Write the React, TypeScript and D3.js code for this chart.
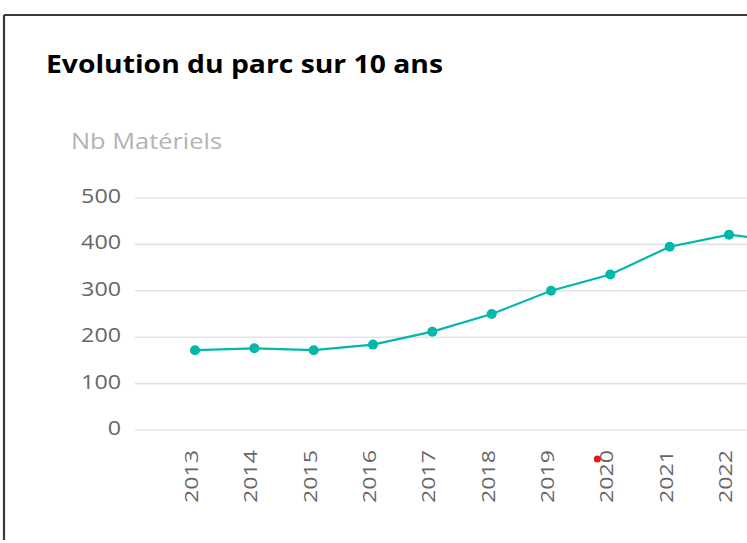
import React from "react";
import * as d3 from "d3";

const years = [2013, 2014, 2015, 2016, 2017, 2018, 2019, 2020, 2021, 2022, 2023];
const values = [172, 176, 172, 184, 212, 250, 300, 335, 395, 421, 405];
const yTicks = [0, 100, 200, 300, 400, 500];
const titleText = "Evolution du parc sur 10 ans";
const yAxisTitle = "Nb Matériels";

const W = 747;
const H = 543;
const FONT = "'Segoe UI', 'Open Sans', 'Noto Sans', sans-serif";
const TEAL = "#01B8AA";

export default function App() {
  const x = d3.scaleLinear().domain([2013, 2022]).range([195, 729]);
  const y = d3.scaleLinear().domain([0, 500]).range([430, 198]);
  const line = d3
    .line<number>()
    .x((_, i) => x(years[i]))
    .y((d) => y(d));
  const visibleYears = years.filter((yr) => x(yr) + 3 < W);

  return (
    <svg
      width={W}
      height={H}
      style={{ position: "absolute", left: 0, top: 0, background: "#fff" }}
    >
      <rect x={0} y={0} width={W} height={H} fill="#fff" />
      {/* frame */}
      <line x1={4} y1={15} x2={W} y2={15} stroke="#3a3a3a" strokeWidth={2.2} />
      <line x1={4} y1={15} x2={4} y2={540} stroke="#3a3a3a" strokeWidth={2.2} />

      <text
        x={46}
        y={73}
        fontFamily={FONT}
        fontWeight={700}
        fontSize={25}
        fill="#000"
        textLength={397}
        lengthAdjust="spacingAndGlyphs"
      >
        {titleText}
      </text>

      <text
        x={71}
        y={148.5}
        fontFamily={FONT}
        fontSize={22}
        fill="#b3b3b3"
        textLength={151}
        lengthAdjust="spacingAndGlyphs"
      >
        {yAxisTitle}
      </text>

      {/* gridlines */}
      {yTicks.map((t) => (
        <line
          key={"g" + t}
          x1={135}
          x2={W}
          y1={y(t)}
          y2={y(t)}
          stroke="#e3e3e3"
          strokeWidth={1.6}
        />
      ))}
      {/* y tick labels */}
      {yTicks.map((t) => (
        <text
          key={"t" + t}
          x={121}
          y={y(t) + 5}
          textAnchor="end"
          fontFamily={FONT}
          fontSize={20}
          fill="#666666"
          textLength={String(t).length * 13.3}
          lengthAdjust="spacingAndGlyphs"
        >
          {t}
        </text>
      ))}

      {/* x labels */}
      {visibleYears.map((yr) => (
        <text
          key={"x" + yr}
          transform={`translate(${x(yr) + 3},450) rotate(-90)`}
          textAnchor="end"
          fontFamily={FONT}
          fontSize={18}
          fill="#666666"
          textLength={53}
          lengthAdjust="spacingAndGlyphs"
        >
          {yr}
        </text>
      ))}

      {/* series */}
      <path d={line(values) || ""} fill="none" stroke={TEAL} strokeWidth={2.2} />
      {values.map((v, i) => (
        <circle key={"p" + i} cx={x(years[i])} cy={y(v)} r={5} fill={TEAL} />
      ))}

      {/* small red marker near 2020 label */}
      <circle cx={x(2020) - 13} cy={459} r={3.5} fill="#e8141b" />
    </svg>
  );
}
